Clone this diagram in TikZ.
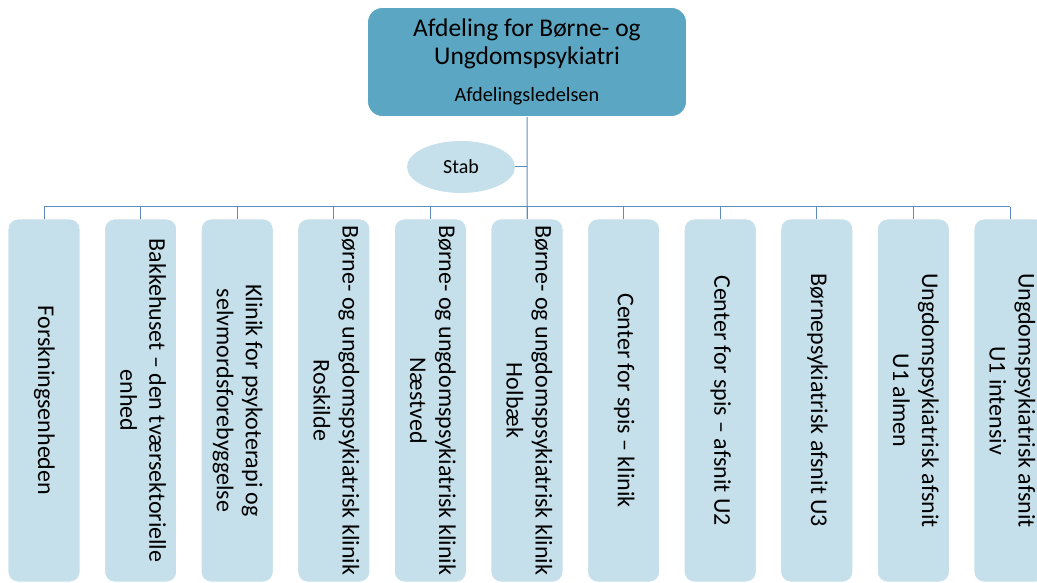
\documentclass[tikz,border=0pt]{standalone}
\usepackage{fontspec}
\setmainfont{Carlito}
\usetikzlibrary{shapes.geometric}
\definecolor{deptblue}{RGB}{91,166,194}
\definecolor{unitblue}{RGB}{197,224,234}
\definecolor{linkblue}{RGB}{95,140,190}
\tikzset{
  dept/.style={rectangle, rounded corners=15pt, fill=deptblue, draw=white, line width=0.8pt,
    minimum width=319pt, minimum height=109pt, align=center, font=\fontsize{25.5}{28}\selectfont},
  staff/.style={ellipse, fill=unitblue, minimum width=108pt, minimum height=52pt,
    inner sep=0pt, font=\fontsize{20}{24}\selectfont},
  unit/.style={rectangle, rounded corners=10pt, fill=unitblue, draw=white, line width=0.8pt,
    minimum width=72pt, minimum height=363pt, inner sep=0pt, font=\fontsize{24}{29}\selectfont},
  link/.style={draw=linkblue, line width=1pt}
}
\newcommand{\unittext}[1]{\rotatebox{-90}{\begin{tabular}{@{}c@{}}#1\end{tabular}}}
\begin{document}
\begin{tikzpicture}[x=1pt,y=-1pt]
    \def\x{96.6}
    \def\y{400.5}
    \useasboundingbox (0,0) rectangle (1037,583);
    \clip (0,0) rectangle (1037,583);
    \node[dept] (A0_0) at (527,62) {Afdeling for Børne- og\\Ungdomspsykiatri\\[9pt]{\fontsize{20.3}{24}\selectfont Afdelingsledelsen}};
    \node[staff] (A1_0) at (461,167) {Stab};
    \node[unit] (A2_1) at (44+0*\x,\y) {\unittext{Forskningsenheden}};
    \node[unit] (A2_2) at (44+1*\x,\y) {\unittext{Bakkehuset -- den tværsektorielle\\enhed}};
    \node[unit] (A2_3) at (44+2*\x,\y) {\unittext{Klinik for psykoterapi og\\selvmordsforebyggelse}};
    \node[unit] (A2_4) at (44+3*\x,\y) {\unittext{Børne- og ungdomspsykiatrisk klinik\\Roskilde}};
    \node[unit] (A2_5) at (44+4*\x,\y) {\unittext{Børne- og ungdomspsykiatrisk klinik\\Næstved}};
    \node[unit] (A2_6) at (44+5*\x,\y) {\unittext{Børne- og ungdomspsykiatrisk klinik\\Holbæk}};
    \node[unit] (A2_7) at (44+6*\x,\y) {\unittext{Center for spis -- klinik}};
    \node[unit] (A2_8) at (44+7*\x,\y) {\unittext{Center for spis -- afsnit U2}};
    \node[unit] (A2_9) at (44+8*\x,\y) {\unittext{Børnepsykiatrisk afsnit U3}};
    \node[unit] (A2_10) at (44+9*\x,\y) {\unittext{Ungdomspsykiatrisk afsnit\\U1 almen}};
    \node[unit] (A2_11) at (44+10*\x,\y) {\unittext{Ungdomspsykiatrisk afsnit\\U1 intensiv}};
    \coordinate (bus) at (527,207);
    \draw[link] (A0_0.south) -- (A2_6.north);
    \draw[link] (A1_0.east) -- (A1_0.east -| A0_0.south);
    \draw[link] (A2_1.north |- bus) -- (A2_11.north |- bus);
    \foreach \i in {1,...,11}
      \draw[link] (A2_\i.north) -- (A2_\i.north |- bus);
\end{tikzpicture}
\end{document}
